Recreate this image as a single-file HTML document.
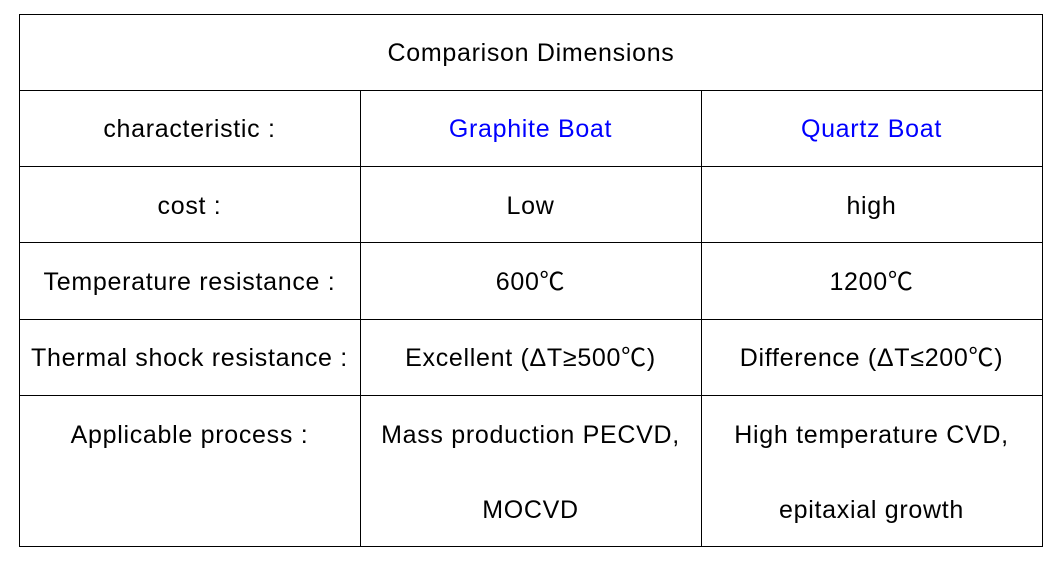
<!DOCTYPE html>
<html><head><meta charset="utf-8"><style>
body{margin:0;width:1055px;height:561px;background:#fff;position:relative;overflow:hidden;font-family:"Liberation Sans","Noto Sans CJK SC",sans-serif;font-size:25px;letter-spacing:0.7px;color:#000}
.l{position:absolute;background:#000}
.t{position:absolute;width:341px;text-align:center;line-height:30px;white-space:nowrap}
.b{color:#0000ff}
</style></head><body>
<div class="l" style="left:19px;top:14px;width:1024px;height:1px"></div>
<div class="l" style="left:19px;top:90px;width:1024px;height:1px"></div>
<div class="l" style="left:19px;top:166px;width:1024px;height:1px"></div>
<div class="l" style="left:19px;top:242px;width:1024px;height:1px"></div>
<div class="l" style="left:19px;top:319px;width:1024px;height:1px"></div>
<div class="l" style="left:19px;top:395px;width:1024px;height:1px"></div>
<div class="l" style="left:19px;top:546px;width:1024px;height:1px"></div>
<div class="l" style="left:19px;top:14px;width:1px;height:533px"></div>
<div class="l" style="left:1042px;top:14px;width:1px;height:533px"></div>
<div class="l" style="left:360px;top:90px;width:1px;height:457px"></div>
<div class="l" style="left:701px;top:90px;width:1px;height:457px"></div>

<div class="t" style="left:19px;width:1024px;top:38px">Comparison Dimensions</div>

<div class="t" style="left:19px;top:114px">characteristic :</div>
<div class="t b" style="left:360px;top:114px">Graphite Boat</div>
<div class="t b" style="left:701px;top:114px">Quartz Boat</div>

<div class="t" style="left:19px;top:191px">cost :</div>
<div class="t" style="left:360px;top:191px">Low</div>
<div class="t" style="left:701px;top:191px">high</div>

<div class="t" style="left:19px;top:267px">Temperature resistance :</div>
<div class="t" style="left:360px;top:267px">600℃</div>
<div class="t" style="left:701px;top:267px">1200℃</div>

<div class="t" style="left:19px;top:343px">Thermal shock resistance :</div>
<div class="t" style="left:360px;top:343px">Excellent (ΔT≥500℃)</div>
<div class="t" style="left:701px;top:343px">Difference (ΔT≤200℃)</div>

<div class="t" style="left:19px;top:420px">Applicable process :</div>
<div class="t" style="left:360px;top:420px">Mass production PECVD,</div>
<div class="t" style="left:701px;top:420px">High temperature CVD,</div>
<div class="t" style="left:360px;top:495px">MOCVD</div>
<div class="t" style="left:701px;top:495px">epitaxial growth</div>
</body></html>
